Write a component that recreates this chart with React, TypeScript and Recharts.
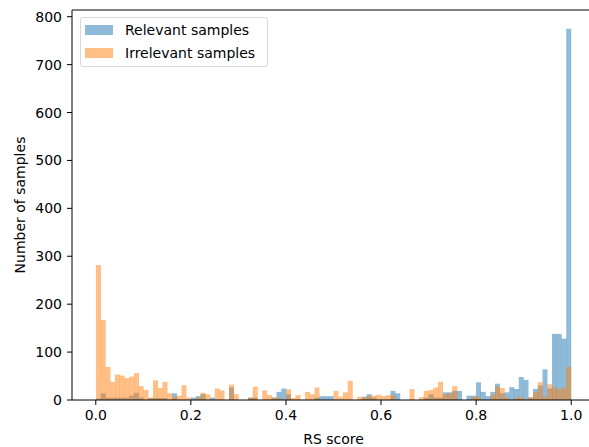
import React from "react";
import { ComposedChart, Bar, XAxis, YAxis, ReferenceLine } from "recharts";

// 100 bins over [0, 1], counts
const relevant = [
  3, 14, 5, 5, 5, 5, 5, 9, 15, 5,
  0, 4, 4, 4, 4, 0, 14, 0, 0, 0,
  5, 8, 12, 0, 5, 0, 0, 0, 26, 0,
  0, 0, 5, 5, 0, 0, 0, 5, 17, 24,
  12, 0, 0, 0, 0, 0, 5, 8, 8, 8,
  0, 0, 0, 0, 0, 0, 7, 12, 5, 0,
  0, 0, 19, 14, 0, 0, 0, 0, 0, 5,
  12, 5, 5, 16, 16, 19, 19, 0, 9, 9,
  37, 17, 8, 17, 34, 14, 16, 27, 23, 48,
  42, 5, 23, 30, 64, 24, 138, 138, 128, 775,
];

const irrelevant = [
  282, 167, 69, 38, 53, 51, 46, 49, 56, 29,
  21, 5, 41, 25, 38, 14, 6, 9, 31, 5,
  0, 5, 15, 12, 0, 24, 20, 0, 32, 12,
  0, 0, 5, 28, 0, 20, 10, 5, 5, 0,
  22, 4, 10, 0, 17, 12, 26, 0, 0, 0,
  19, 7, 16, 40, 0, 7, 5, 9, 9, 11,
  8, 10, 10, 0, 0, 0, 23, 0, 6, 19,
  21, 26, 38, 12, 14, 29, 0, 0, 0, 6,
  7, 0, 0, 10, 28, 25, 5, 0, 5, 6,
  0, 6, 16, 37, 7, 33, 26, 22, 26, 69,
];

const xTicks = [0, 0.2, 0.4, 0.6, 0.8, 1.0];
const yTicks = [0, 100, 200, 300, 400, 500, 600, 700, 800];

const data = relevant.map((r, i) => ({
  bin: i,
  x: (i + 0.5) / 100,
  relevant: r,
  irrelevant: irrelevant[i],
}));

const font = "'DejaVu Sans', sans-serif";
const tickStyle = { fontSize: 14, fill: "#000", fontFamily: font };

export default function App() {
  return (
    <div style={{ position: "absolute", left: 0, top: 0, width: 589, height: 447, overflow: "hidden", background: "#fff" }}>
      <ComposedChart
        width={596}
        height={447}
        data={data}
        margin={{ top: 10, right: 1, left: 0, bottom: 0 }}
        barCategoryGap={0}
        barGap={0}
      >
        <XAxis
          xAxisId="score"
          dataKey="x"
          type="number"
          domain={[-0.05, 1.05]}
          allowDataOverflow
          ticks={xTicks}
          tickFormatter={(v: number) => v.toFixed(1)}
          height={47}
          tick={tickStyle}
          tickSize={5}
          tickMargin={5}
          stroke="#000"
          label={{
            content: ({ viewBox }: any) => (
              <text x={viewBox.x + viewBox.width / 2} y={444} textAnchor="middle" fontSize={14} fontFamily={font} fill="#000">
                RS score
              </text>
            ),
          }}
        />
        <XAxis xAxisId="rel" dataKey="bin" type="category" orientation="top" height={0} hide padding={{ left: 24, right: 24 }} />
        <XAxis xAxisId="irr" dataKey="bin" type="category" orientation="top" height={0} hide padding={{ left: 24, right: 24 }} />
        <YAxis
          domain={[0, 814]}
          ticks={yTicks}
          width={72}
          tick={tickStyle}
          tickSize={5}
          tickMargin={5}
          stroke="#000"
          label={{
            content: ({ viewBox }: any) => {
              const cy = viewBox.y + viewBox.height / 2;
              return (
                <text x={25} y={cy} transform={`rotate(-90, 25, ${cy})`} textAnchor="middle" fontSize={14} fontFamily={font} fill="#000">
                  Number of samples
                </text>
              );
            },
          }}
        />
        <Bar xAxisId="rel" dataKey="relevant" fill="#1f77b4" fillOpacity={0.5} isAnimationActive={false} />
        <Bar xAxisId="irr" dataKey="irrelevant" fill="#ff7f0e" fillOpacity={0.5} isAnimationActive={false} />
        <ReferenceLine xAxisId="score" y={814} stroke="#000" strokeWidth={1} ifOverflow="extendDomain" />
      </ComposedChart>
      <div
        style={{
          position: "absolute",
          left: 80,
          top: 17,
          width: 186,
          height: 48,
          border: "1px solid #d9d9d9",
          borderRadius: 3,
          background: "rgba(255,255,255,0.8)",
          fontFamily: font,
          fontSize: 14,
          color: "#000",
        }}
      >
        {[
          { name: "Relevant samples", color: "#8fbbd9", top: 4 },
          { name: "Irrelevant samples", color: "#ffbf86", top: 27 },
        ].map((item) => (
          <div key={item.name} style={{ position: "absolute", left: 4, top: item.top, height: 16, display: "flex", alignItems: "center" }}>
            <span style={{ display: "inline-block", width: 28, height: 10, background: item.color, marginRight: 12 }} />
            <span style={{ lineHeight: "16px", whiteSpace: "nowrap" }}>{item.name}</span>
          </div>
        ))}
      </div>
    </div>
  );
}
